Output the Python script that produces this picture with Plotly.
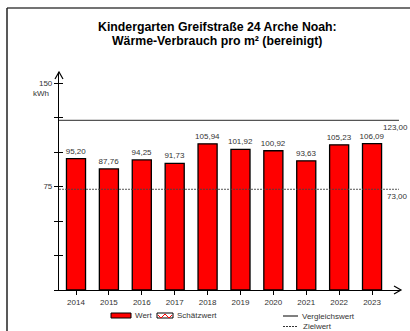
import plotly.graph_objects as go

years = ["2014", "2015", "2016", "2017", "2018", "2019", "2020", "2021", "2022", "2023"]
werte = [95.20, 87.76, 94.25, 91.73, 105.94, 101.92, 100.92, 93.63, 105.23, 106.09]
vergleichswert = 123.00
zielwert = 73.00
ytick_vals = [0, 25, 50, 75, 100, 125, 150]
ytick_text = ["", "", "", "75", "", "", "150"]

FONT = "Liberation Sans, Arial, sans-serif"
W, H = 410, 331
L, R, T, B = 59, 10, 72, 41
PW, PH = W - L - R, H - T - B


def px(x):
    return (x - L) / PW


def py(y):
    return (H - B - y) / PH


fig = go.Figure()
fig.add_trace(go.Bar(
    x=list(range(len(years))), y=werte, width=0.58,
    marker=dict(color="#ff0000", line=dict(color="black", width=1.3)),
    text=werte, texttemplate="%{y:.2f}", textposition="outside", constraintext="none",
    textfont=dict(size=8, color="#333", family=FONT), cliponaxis=False,
    hoverinfo="skip", showlegend=False,
))
# invisible trace for the second y axis (inner tick marks)
fig.add_trace(go.Scatter(x=[0], y=[0], yaxis="y2", mode="markers",
                         marker=dict(opacity=0), showlegend=False, hoverinfo="skip"))

shapes = []
# reference lines
shapes.append(dict(type="line", xref="x domain", x0=0, x1=0.997, yref="y",
                   y0=vergleichswert, y1=vergleichswert, line=dict(color="#555", width=1.3)))
shapes.append(dict(type="line", xref="x domain", x0=0, x1=0.997, yref="y",
                   y0=zielwert, y1=zielwert, line=dict(color="#444", width=0.9, dash="2px,1px")))
# frame (top and left)
shapes.append(dict(type="line", xref="paper", yref="paper", x0=px(7), x1=px(412),
                   y0=py(8), y1=py(8), line=dict(color="#444", width=1.5)))
shapes.append(dict(type="line", xref="paper", yref="paper", x0=px(7), x1=px(7),
                   y0=py(8), y1=py(333), line=dict(color="#222", width=1.5)))
# axis arrows
shapes.append(dict(type="path", xref="paper", yref="paper", xsizemode="pixel", ysizemode="pixel",
                   xanchor=0, yanchor=py(72),
                   path="M -4,-7 L 0,0 L 4,-7", line=dict(color="black", width=1.2)))
shapes.append(dict(type="line", xref="paper", yref="paper", x0=0, x1=0, y0=1, y1=py(72),
                   line=dict(color="black", width=1.2)))
shapes.append(dict(type="path", xref="paper", yref="paper", xsizemode="pixel", ysizemode="pixel",
                   xanchor=px(401), yanchor=0,
                   path="M -7,4 L 0,0 L -7,-4", line=dict(color="black", width=1.2)))
# legend: Wert
shapes.append(dict(type="rect", xref="paper", yref="paper", x0=px(111), x1=px(131),
                   y0=py(313), y1=py(318), fillcolor="#ff0000", line=dict(color="black", width=1)))
# legend: Schätzwert
shapes.append(dict(type="rect", xref="paper", yref="paper", x0=px(157), x1=px(173),
                   y0=py(313), y1=py(318), fillcolor="white", line=dict(color="black", width=1)))
shapes.append(dict(type="path", xref="paper", yref="paper", xsizemode="pixel", ysizemode="pixel",
                   xanchor=px(157), yanchor=py(318),
                   path="M 1,3 L 4,0 L 8,4 L 12,0 L 15,3", line=dict(color="#ff0000", width=1)))
# legend: Vergleichswert / Zielwert
shapes.append(dict(type="line", xref="paper", yref="paper", x0=px(283), x1=px(298),
                   y0=py(316), y1=py(316), line=dict(color="black", width=1)))
shapes.append(dict(type="line", xref="paper", yref="paper", x0=px(283), x1=px(298),
                   y0=py(326.5), y1=py(326.5), line=dict(color="black", width=0.8, dash="2px,1px")))

ann = []
title_lines = ["Kindergarten Greifstraße 24 Arche Noah:", "Wärme-Verbrauch pro m² (bereinigt)"]
for i, t in enumerate(title_lines):
    ann.append(dict(text=f"<b>{t}</b>", xref="paper", yref="paper", x=px(217), y=py(27 + 14 * i),
                    xanchor="center", yanchor="middle", showarrow=False,
                    font=dict(size=12.3, color="black", family=FONT)))
ann.append(dict(text="kWh", xref="paper", yref="paper", x=px(51), y=py(93), xanchor="right",
                yanchor="middle", showarrow=False, font=dict(size=8, color="#333", family=FONT)))
for val in (vergleichswert, zielwert):
    ann.append(dict(text=f"{val:.2f}".replace(".", ","), xref="paper", yref="y", x=px(410), y=val,
                    xanchor="right", yanchor="top", yshift=-1, showarrow=False,
                    font=dict(size=8, color="#333", family=FONT)))
leg = [("Wert", 133, 315), ("Schätzwert", 175, 315), ("Vergleichswert", 300, 316), ("Zielwert", 301, 326)]
for t, x, y in leg:
    ann.append(dict(text=t, xref="paper", yref="paper", x=px(x), y=py(y), xanchor="left",
                    yanchor="middle", showarrow=False, font=dict(size=8, color="#333", family=FONT)))

fig.update_layout(
    width=W, height=H, margin=dict(l=L, r=R, t=T, b=B),
    paper_bgcolor="white", plot_bgcolor="white",
    separators=",.",
    showlegend=False,
    font=dict(family=FONT, size=8, color="#333"),
    xaxis=dict(range=[-0.517, 9.85], tickvals=list(range(len(years))), ticktext=years,
               showgrid=False, zeroline=False, showline=True, linecolor="black", linewidth=1.2,
               ticks="outside", ticklen=4, tickcolor="black", tickfont=dict(size=8, color="#333")),
    yaxis=dict(range=[0, 158], tickvals=ytick_vals, ticktext=ytick_text, showgrid=False,
               zeroline=False, showline=True, linecolor="black", linewidth=1.2,
               ticks="outside", ticklen=4, tickcolor="black", tickfont=dict(size=8, color="#333")),
    yaxis2=dict(range=[0, 158], overlaying="y", side="left", tickvals=ytick_vals[1:],
                showticklabels=False, ticks="inside", ticklen=4, tickcolor="black",
                showgrid=False, zeroline=False, showline=False),
    shapes=shapes, annotations=ann,
)
fig.write_html("out.html", config={"displayModeBar": False},
               post_script="document.body.style.margin='0';document.body.style.overflow='hidden';")
